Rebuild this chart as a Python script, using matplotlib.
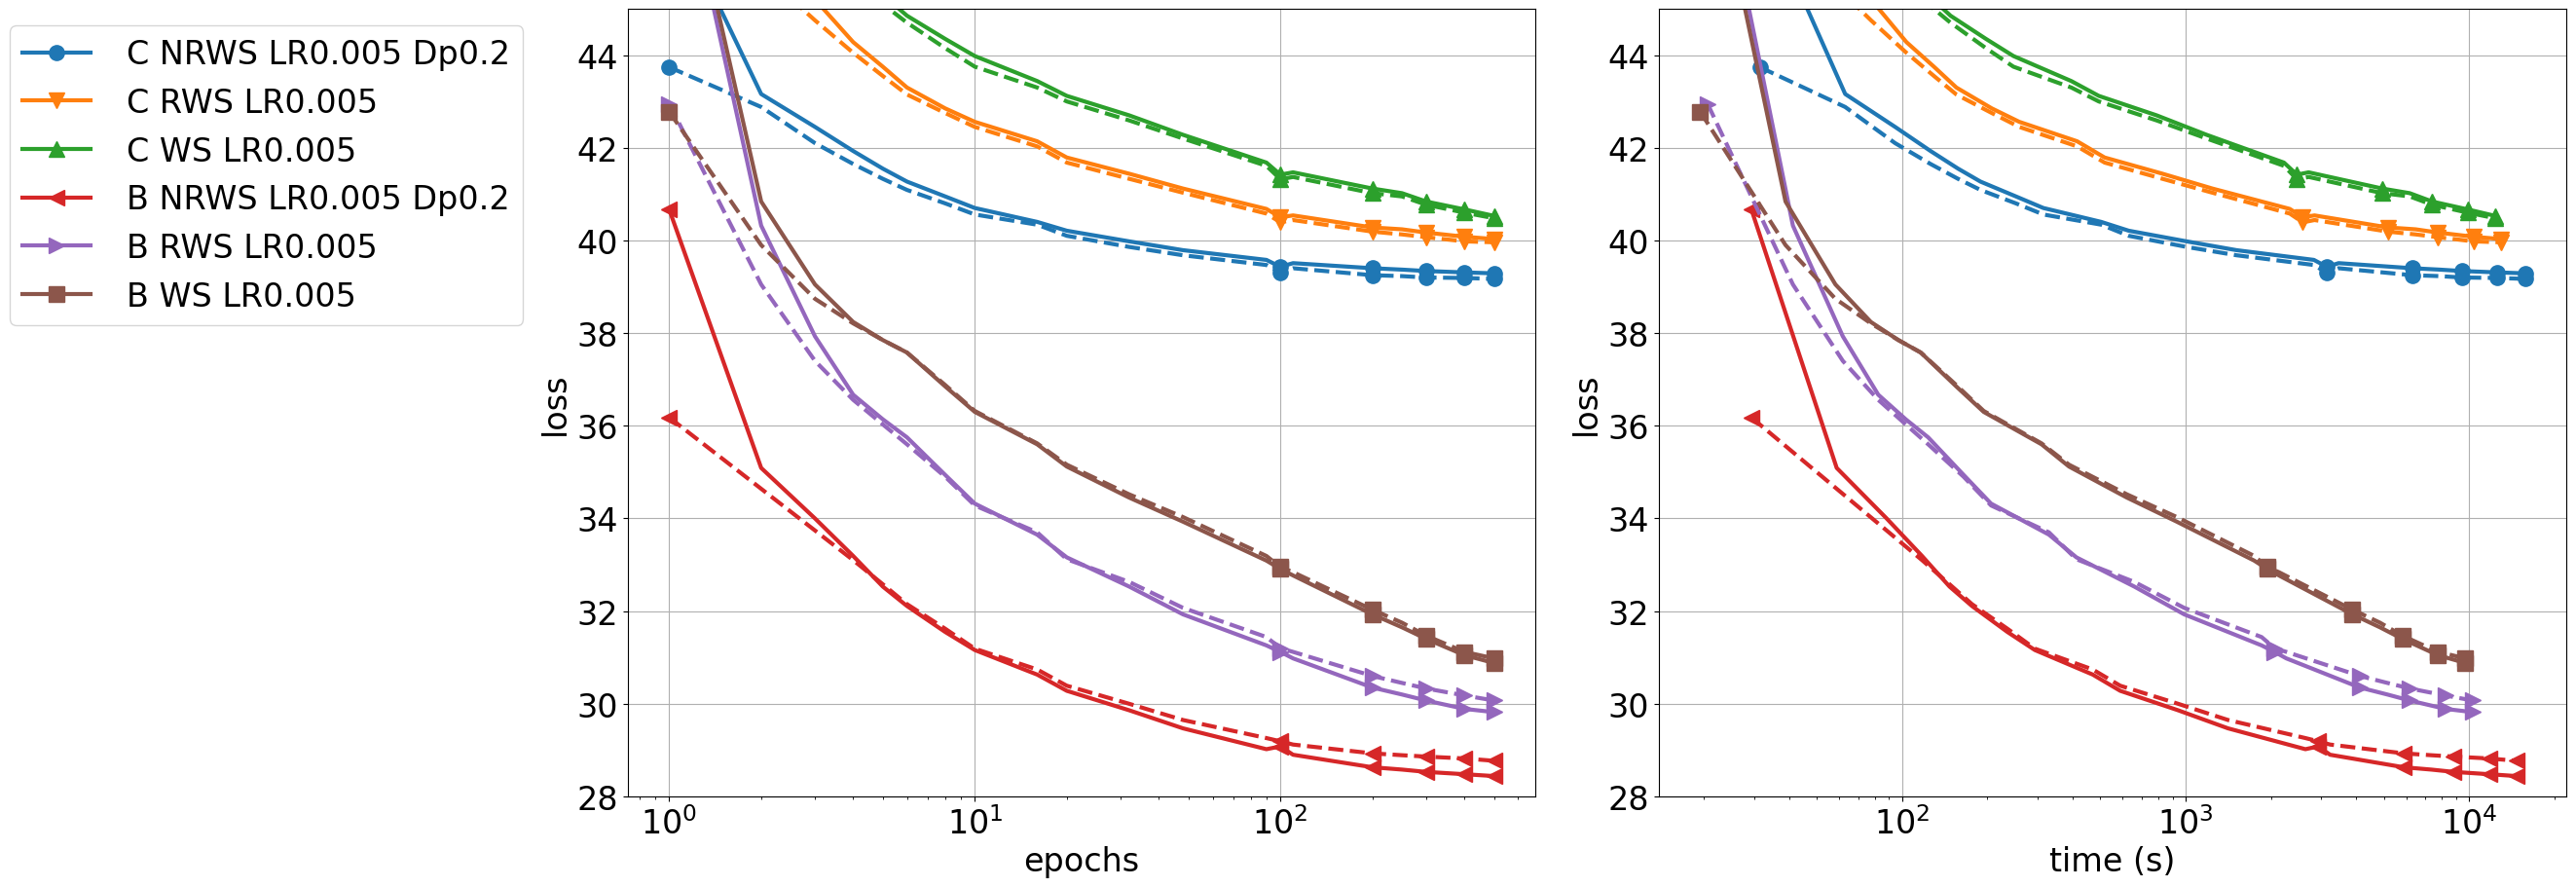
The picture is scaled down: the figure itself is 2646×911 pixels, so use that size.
import matplotlib
matplotlib.use("Agg")
import matplotlib.pyplot as plt

# ---------------- data ----------------
EPOCHS = [1, 2, 3, 4, 5, 6, 8, 10, 16, 20, 32, 48, 90, 100, 110, 200, 250, 300, 400, 500]
MARK_EPOCHS = [1, 100, 200, 300, 400, 500]

LABELS = ["C NRWS LR0.005 Dp0.2", "C RWS LR0.005", "C WS LR0.005",
          "B NRWS LR0.005 Dp0.2", "B RWS LR0.005", "B WS LR0.005"]
MARKERS = ["o", "v", "^", "<", ">", "s"]
SEC_PER_EPOCH = [31.5, 25.9, 24.7, 29.4, 20.6, 19.4]

c_nrws_solid = [47.3, 43.16, 42.45, 41.93, 41.55, 41.27, 40.95, 40.70, 40.40, 40.21,
                39.98, 39.79, 39.58, 39.43, 39.51, 39.40, 39.37, 39.34, 39.31, 39.29]
c_nrws_dashed = [43.74, 42.88, 42.10, 41.65, 41.33, 41.09, 40.80, 40.56, 40.34, 40.10,
                 39.86, 39.68, 39.47, 39.30, 39.40, 39.25, 39.23, 39.20, 39.19, 39.17]
c_rws_solid = [49.0, 46.5, 45.2, 44.28, 43.75, 43.30, 42.85, 42.56, 42.14, 41.79,
               41.44, 41.12, 40.68, 40.50, 40.54, 40.28, 40.24, 40.17, 40.08, 40.03]
c_rws_dashed = [48.0, 45.8, 44.75, 44.05, 43.55, 43.15, 42.75, 42.45, 42.03, 41.68,
                41.33, 41.03, 40.58, 40.39, 40.44, 40.19, 40.13, 40.07, 39.98, 39.96]
c_ws_solid = [50.0, 48.0, 46.8, 45.9, 45.3, 44.85, 44.35, 43.98, 43.44, 43.12,
              42.70, 42.28, 41.68, 41.42, 41.47, 41.12, 41.02, 40.84, 40.67, 40.53]
c_ws_dashed = [49.5, 47.5, 46.4, 45.6, 45.1, 44.70, 44.15, 43.75, 43.30, 43.00,
               42.59, 42.20, 41.61, 41.32, 41.37, 41.02, 40.95, 40.77, 40.60, 40.48]
b_nrws_solid = [40.67, 35.09, 34.00, 33.19, 32.53, 32.11, 31.55, 31.16, 30.63, 30.28,
                29.86, 29.47, 29.02, 29.08, 28.90, 28.63, 28.58, 28.53, 28.48, 28.44]
b_nrws_dashed = [36.18, 34.64, 33.74, 33.10, 32.58, 32.15, 31.62, 31.19, 30.74, 30.39,
                 30.00, 29.65, 29.26, 29.19, 29.12, 28.93, 28.89, 28.86, 28.82, 28.77]
b_rws_solid = [49.4, 40.32, 37.93, 36.67, 36.14, 35.75, 34.94, 34.32, 33.65, 33.16,
               32.53, 31.93, 31.26, 31.12, 30.98, 30.35, 30.20, 30.07, 29.89, 29.82]
b_rws_dashed = [42.95, 39.05, 37.40, 36.56, 36.03, 35.60, 34.90, 34.28, 33.70, 33.12,
                32.63, 32.07, 31.44, 31.20, 31.12, 30.60, 30.45, 30.33, 30.18, 30.07]
b_ws_solid = [49.6, 40.84, 39.05, 38.24, 37.85, 37.58, 36.85, 36.30, 35.60, 35.12,
              34.45, 33.93, 33.09, 32.91, 32.77, 31.93, 31.65, 31.40, 31.05, 30.88]
b_ws_dashed = [42.78, 39.90, 38.74, 38.21, 37.85, 37.58, 36.88, 36.32, 35.62, 35.16,
               34.52, 34.03, 33.19, 32.95, 32.84, 32.03, 31.75, 31.47, 31.12, 30.98]

SOLID = [c_nrws_solid, c_rws_solid, c_ws_solid, b_nrws_solid, b_rws_solid, b_ws_solid]
DASHED = [c_nrws_dashed, c_rws_dashed, c_ws_dashed, b_nrws_dashed, b_rws_dashed, b_ws_dashed]
COLORS = ["C0", "C1", "C2", "C3", "C4", "C5"]

# ---------------- plot ----------------
plt.rcParams["font.size"] = 24
W, H = 2646, 912
fig, axes = plt.subplots(1, 2, figsize=(W / 100, H / 100), dpi=100)
fig.subplots_adjust(left=645 / W, right=2636 / W, bottom=1 - 819 / H, top=1 - 10 / H,
                    wspace=0.1363)

mark_idx = [EPOCHS.index(m) for m in MARK_EPOCHS]
lw, ms = 3, 11

handles = []
for ax, use_time in zip(axes, [False, True]):
    for i in range(len(LABELS)):
        x = [e * SEC_PER_EPOCH[i] for e in EPOCHS] if use_time else EPOCHS
        h, = ax.plot(x, SOLID[i], "-", color=COLORS[i], marker=MARKERS[i],
                     markevery=mark_idx, lw=lw, ms=ms, label=LABELS[i])
        ax.plot(x, DASHED[i], "--", color=COLORS[i], marker=MARKERS[i],
                markevery=mark_idx, lw=lw, ms=ms)
        if not use_time:
            handles.append(h)
    ax.set_xscale("log")
    ax.set_ylim(28, 45)
    ax.grid(True)
    ax.set_ylabel("loss")

axes[0].set_xlabel("epochs")
axes[1].set_xlabel("time (s)")

fig.legend(handles=handles, loc="upper left", bbox_to_anchor=(10 / W, 1 - 27 / H),
           borderaxespad=0, handlelength=2.1, handletextpad=1.1)

fig.savefig("out.png", dpi=100)
